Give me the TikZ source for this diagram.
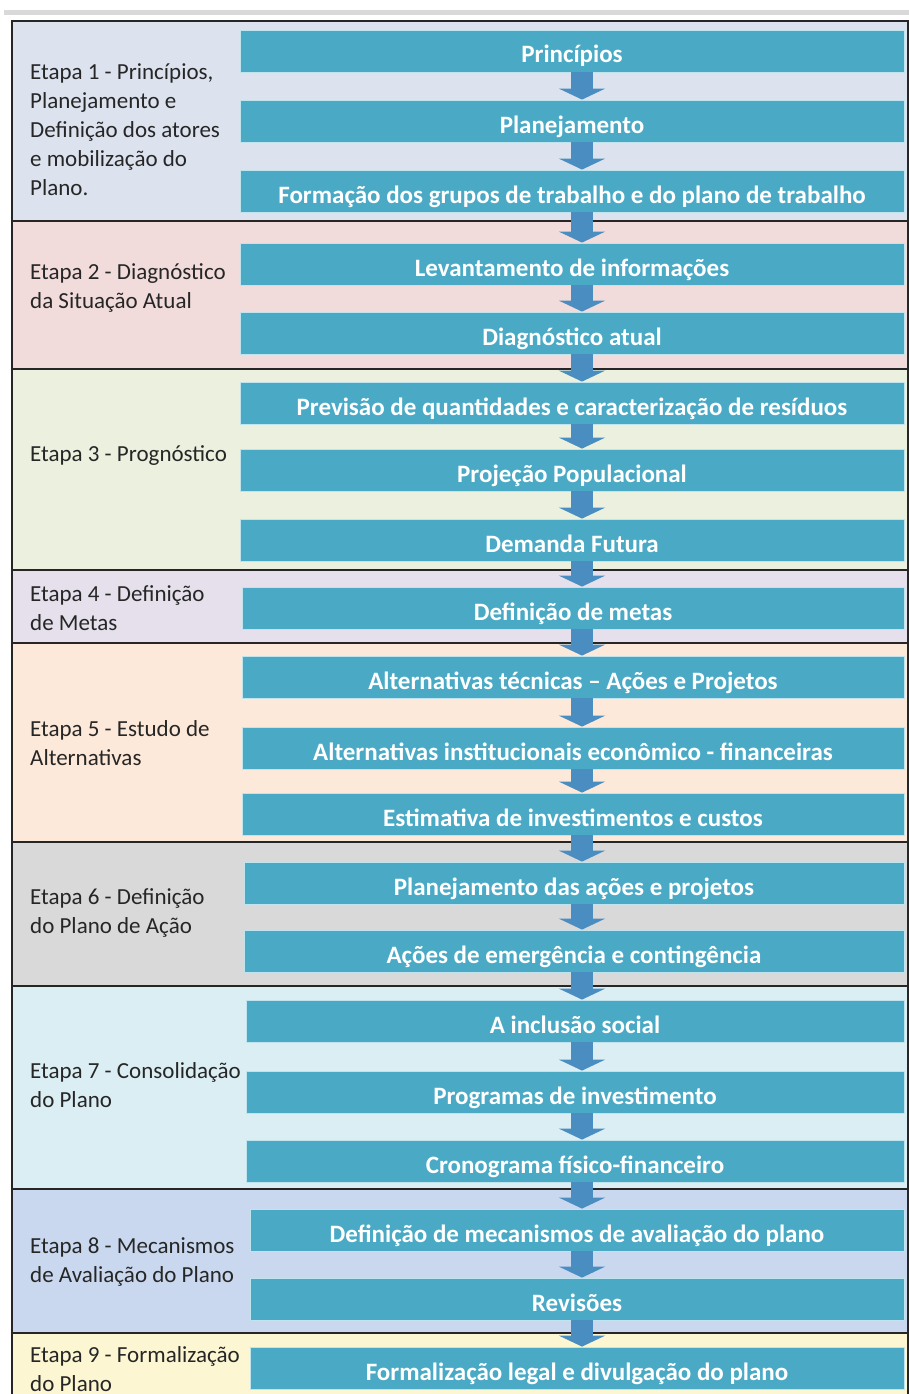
\documentclass[tikz,border=0pt]{standalone}
\usepackage{fontspec}
\setmainfont{Carlito}
\usetikzlibrary{arrows.meta}

\definecolor{boxblue}{HTML}{4AAAC6}
\definecolor{boxedge}{HTML}{BFE4EE}
\definecolor{arrowblue}{HTML}{4A8EC1}
\definecolor{labelgray}{HTML}{262626}
\definecolor{bandA}{HTML}{DCE3EF}
\definecolor{bandB}{HTML}{F2DCDB}
\definecolor{bandC}{HTML}{EBF1DE}
\definecolor{bandD}{HTML}{E5E0EC}
\definecolor{bandE}{HTML}{FDE9D9}
\definecolor{bandF}{HTML}{D9D9D9}
\definecolor{bandG}{HTML}{DBEEF4}
\definecolor{bandH}{HTML}{C9D8EF}
\definecolor{bandI}{HTML}{FCF6D2}

\tikzset{
  etapa/.style={anchor=west, align=left, text=labelgray, inner sep=0pt,
    font=\fontsize{23}{29}\selectfont},
  passo/.style={fill=boxblue, draw=boxedge, line width=0.8pt, text=white,
    inner sep=0pt, minimum height=42pt, text height=24pt, text depth=0pt,
    font=\fontsize{25}{29}\selectfont\bfseries},
  seta/.style={draw=arrowblue, line width=22pt, -{Triangle[width=46pt,length=11pt]}},
  divisa/.style={line width=2pt, black!85}
}

\begin{document}
\begin{tikzpicture}[x=1pt,y=-1pt]
\useasboundingbox (0,0) rectangle (909,1394);
\fill[white] (0,0) rectangle (909,1394);
\fill[black!15] (4,10) rectangle (909,15);

% faixas das etapas
\fill[bandA] (12,21) rectangle (908,221);
\fill[bandB] (12,221) rectangle (908,369);
\fill[bandC] (12,369) rectangle (908,570);
\fill[bandD] (12,570) rectangle (908,643);
\fill[bandE] (12,643) rectangle (908,842);
\fill[bandF] (12,842) rectangle (908,986);
\fill[bandG] (12,986) rectangle (908,1189);
\fill[bandH] (12,1189) rectangle (908,1333);
\fill[bandI] (12,1333) rectangle (908,1394);

\draw[divisa] (12,1394) -- (12,21) -- (908,21) -- (908,1394);
\draw[divisa] (12,221) -- (908,221);
\draw[divisa] (12,369) -- (908,369);
\draw[divisa] (12,570) -- (908,570);
\draw[divisa] (12,643) -- (908,643);
\draw[divisa] (12,842) -- (908,842);
\draw[divisa] (12,986) -- (908,986);
\draw[divisa] (12,1189) -- (908,1189);
\draw[divisa] (12,1333) -- (908,1333);

% etapas
\node[etapa] (e1) at (30,130) {Etapa 1 - Princípios,\\Planejamento e\\Definição dos atores\\e mobilização do\\Plano.};
\node[etapa] (e2) at (30,288) {Etapa 2 - Diagnóstico\\da Situação Atual};
\node[etapa] (e3) at (30,456) {Etapa 3 - Prognóstico};
\node[etapa] (e4) at (30,608) {Etapa 4 - Definição\\de Metas};
\node[etapa] (e5) at (30,743) {Etapa 5 - Estudo de\\Alternativas};
\node[etapa] (e6) at (30,913) {Etapa 6 - Definição\\do Plano de Ação};
\node[etapa] (e7) at (30,1085) {Etapa 7 - Consolidação\\do Plano};
\node[etapa] (e8) at (30,1262) {Etapa 8 - Mecanismos\\de Avaliação do Plano};
\node[etapa] (e9) at (30,1369) {Etapa 9 - Formalização\\do Plano};

% passos
\node[passo, minimum width=664pt] (p1) at (572,51) {Princípios};
\node[passo, minimum width=664pt] (p2) at (572,121) {Planejamento};
\node[passo, minimum width=664pt] (p3) at (572,191) {Formação dos grupos de trabalho e do plano de trabalho};
\node[passo, minimum width=664pt] (p4) at (572,264) {Levantamento de informações};
\node[passo, minimum width=664pt] (p5) at (572,333) {Diagnóstico atual};
\node[passo, minimum width=664pt] (p6) at (572,403) {Previsão de quantidades e caracterização de resíduos};
\node[passo, minimum width=664pt] (p7) at (572,470) {Projeção Populacional};
\node[passo, minimum width=664pt] (p8) at (572,540) {Demanda Futura};
\node[passo, minimum width=662pt] (p9) at (573,608) {Definição de metas};
\node[passo, minimum width=662pt] (p10) at (573,677) {Alternativas técnicas – Ações e Projetos};
\node[passo, minimum width=662pt] (p11) at (573,748) {Alternativas institucionais econômico - financeiras};
\node[passo, minimum width=662pt] (p12) at (573,814) {Estimativa de investimentos e custos};
\node[passo, minimum width=660pt] (p13) at (574,883) {Planejamento das ações e projetos};
\node[passo, minimum width=660pt] (p14) at (574,951) {Ações de emergência e contingência};
\node[passo, minimum width=658pt] (p15) at (575,1021) {A inclusão social};
\node[passo, minimum width=658pt] (p16) at (575,1092) {Programas de investimento};
\node[passo, minimum width=658pt] (p17) at (575,1161) {Cronograma físico-financeiro};
\node[passo, minimum width=654pt] (p18) at (577,1230) {Definição de mecanismos de avaliação do plano};
\node[passo, minimum width=654pt] (p19) at (577,1299) {Revisões};
\node[passo, minimum width=654pt] (p20) at (577,1368) {Formalização legal e divulgação do plano};

% setas
\coordinate (ax) at (582,0);
\draw[seta] (p1.south -| ax) -- (p2.north -| ax);
\draw[seta] (p2.south -| ax) -- (p3.north -| ax);
\draw[seta] (p3.south -| ax) -- (p4.north -| ax);
\draw[seta] (p4.south -| ax) -- (p5.north -| ax);
\draw[seta] (p5.south -| ax) -- (p6.north -| ax);
\draw[seta] (p6.south -| ax) -- (p7.north -| ax);
\draw[seta] (p7.south -| ax) -- (p8.north -| ax);
\draw[seta] (p8.south -| ax) -- (p9.north -| ax);
\draw[seta] (p9.south -| ax) -- (p10.north -| ax);
\draw[seta] (p10.south -| ax) -- (p11.north -| ax);
\draw[seta] (p11.south -| ax) -- (p12.north -| ax);
\draw[seta] (p12.south -| ax) -- (p13.north -| ax);
\draw[seta] (p13.south -| ax) -- (p14.north -| ax);
\draw[seta] (p14.south -| ax) -- (p15.north -| ax);
\draw[seta] (p15.south -| ax) -- (p16.north -| ax);
\draw[seta] (p16.south -| ax) -- (p17.north -| ax);
\draw[seta] (p17.south -| ax) -- (p18.north -| ax);
\draw[seta] (p18.south -| ax) -- (p19.north -| ax);
\draw[seta] (p19.south -| ax) -- (p20.north -| ax);
\end{tikzpicture}
\end{document}
